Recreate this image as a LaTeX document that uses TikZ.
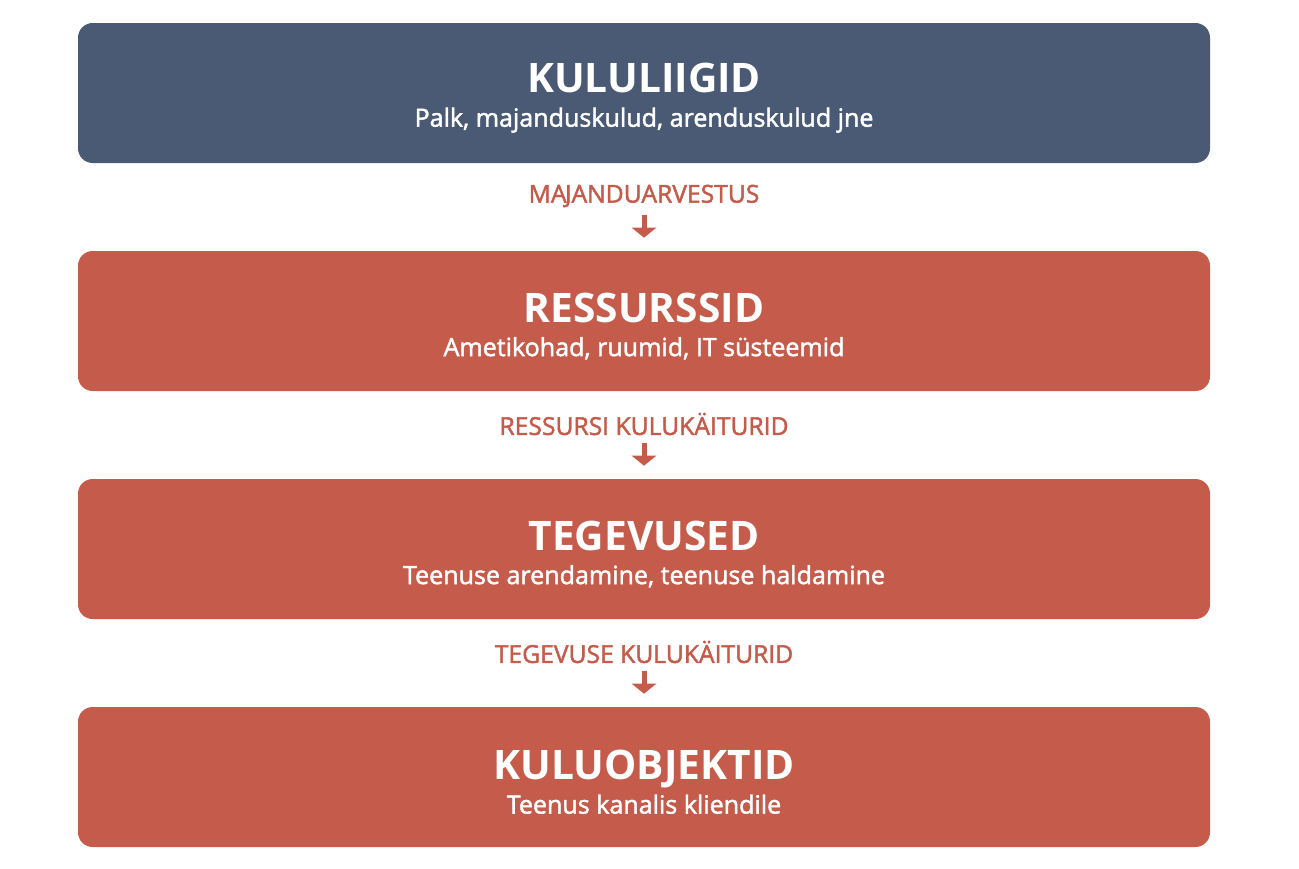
\documentclass[tikz,border=0pt]{standalone}
\usepackage{fontspec}
\setmainfont{Open Sans}
\newfontfamily\semib[FakeBold=1.8]{Open Sans}
\usetikzlibrary{arrows.meta}
\definecolor{topcolor}{HTML}{4A5A74}
\definecolor{boxcolor}{HTML}{C55B4A}
\newcommand{\boxtitle}[1]{{\bfseries\fontsize{30.5}{36}\selectfont\rule{0pt}{29.5pt}#1}}
\newcommand{\boxsub}[1]{{\semib\fontsize{18.8}{20}\selectfont #1}}

\begin{document}
\begin{tikzpicture}[x=0.75pt,y=-0.75pt,
  stage/.style={fill=boxcolor,rounded corners=11pt,minimum width=849pt,minimum height=105pt,
    text=white,align=center,inner sep=0pt,font=\fontsize{17}{25.5pt}\selectfont},
  flowlabel/.style={text=boxcolor,font=\semib\fontsize{18.5}{20}\selectfont,inner sep=0pt},
  flowarrow/.style={boxcolor,line width=3.75pt,-{Triangle[length=7.5pt,width=18pt]},
    shorten <=5.5pt,shorten >=9.75pt}]
  \useasboundingbox (0,0) rectangle (1299,868);
  % the four stages
  \node[stage,fill=topcolor] (kululiigid) at (644,93)
    {\boxtitle{KULULIIGID}\\\boxsub{Palk, majanduskulud, arenduskulud jne}};
  \node[stage] (ressursid) at (644,321)
    {\boxtitle{RESSURSSID}\\\boxsub{Ametikohad, ruumid, IT süsteemid}};
  \node[stage] (tegevused) at (644,549)
    {\boxtitle{TEGEVUSED}\\\boxsub{Teenuse arendamine, teenuse haldamine}};
  \node[stage] (kuluobjektid) at (644,777)
    {\boxtitle{KULUOBJEKTID}\\\boxsub{Teenus kanalis kliendile}};
  % labels between stages
  \node[flowlabel] (majandus) at (644,196) {MA\kern-1.2pt JANDUARVESTUS};
  \node[flowlabel] (ressursikaiturid) at (644,424) {RESSURSI KULUKÄITURID};
  \node[flowlabel] (tegevusekaiturid) at (644,652) {TEGEVUSE KULUKÄITURID};
  \draw[flowarrow] (majandus) -- (ressursid);
  \draw[flowarrow] (ressursikaiturid) -- (tegevused);
  \draw[flowarrow] (tegevusekaiturid) -- (kuluobjektid);
\end{tikzpicture}
\end{document}
